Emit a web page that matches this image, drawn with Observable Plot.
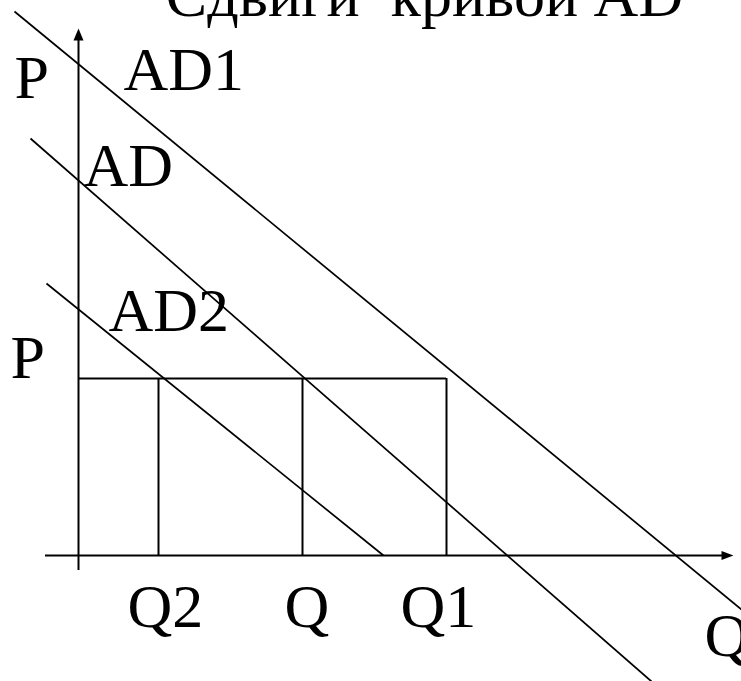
<!DOCTYPE html>
<html><head><meta charset="utf-8">
<script src="https://cdn.jsdelivr.net/npm/d3@7"></script>
<script src="https://cdn.jsdelivr.net/npm/@observablehq/plot@0.6"></script>
<style>html,body{margin:0;padding:0;background:#fff;overflow:hidden}</style>
</head><body><div id="chart"></div>
<script>
// Diagram data (abstract units: Q to the right, P upward, origin at axes crossing)
const title = "Сдвиги\u00A0 кривой AD";
const curveNames = ["AD1", "AD", "AD2"];
const curveStartQ = [-64, -48, -32];
const curveStartP = [544, 417, 272];
const curveEndQ = [663, 573, 305];
const curveEndP = [-54, -126, 0];
const levelNames = ["Q2", "Q", "Q1"];
const levelQ = [80, 224, 368];
const priceLevel = 177;
const axisQ = [-33, 655];
const axisP = [-15, 527];

// label annotations: text, Q, P
const labelText = ["P", "AD1", "AD", "AD2", "P", "Q2", "Q", "Q1", "Q"];
const labelQ = [-64, 45, 5, 30, -68, 49, 206, 322, 626];
const labelP = [458, 466, 370, 225, 178, -71, -71, -71, -100];

const curves = curveNames.map((n, i) => ({n, x1: curveStartQ[i], y1: curveStartP[i], x2: curveEndQ[i], y2: curveEndP[i]}));
const labels = labelText.map((t, i) => ({t, x: labelQ[i], y: labelP[i]}));

const arrowUp = {draw(ctx) { ctx.moveTo(0, 0); ctx.lineTo(5, 12); ctx.lineTo(-5, 12); ctx.closePath(); }};
const arrowRight = {draw(ctx) { ctx.moveTo(0, 0); ctx.lineTo(-12, 4.5); ctx.lineTo(-12, -4.5); ctx.closePath(); }};

const font = "'Liberation Serif', 'Times New Roman', serif";

const chart = Plot.plot({
  width: 741,
  height: 681,
  margin: 0,
  x: {type: "linear", domain: [-78, 663], axis: null},
  y: {type: "linear", domain: [-126, 555], axis: null},
  marks: [
    Plot.ruleX([0], {y1: axisP[0], y2: axisP[1] - 6, stroke: "black", strokeWidth: 2}),
    Plot.ruleY([0], {x1: axisQ[0], x2: axisQ[1] - 6, stroke: "black", strokeWidth: 2}),
    Plot.dot([{x: 0, y: axisP[1]}], {x: "x", y: "y", symbol: arrowUp, fill: "black", stroke: "none"}),
    Plot.dot([{x: axisQ[1], y: 0}], {x: "x", y: "y", symbol: arrowRight, fill: "black", stroke: "none"}),
    Plot.ruleY([priceLevel], {x1: 0, x2: levelQ[2], stroke: "black", strokeWidth: 2}),
    Plot.ruleX(levelQ, {y1: 0, y2: priceLevel, stroke: "black", strokeWidth: 2}),
    Plot.link(curves, {x1: "x1", y1: "y1", x2: "x2", y2: "y2", stroke: "black", strokeWidth: 1.7}),
    Plot.text(labels, {x: "x", y: "y", text: "t", textAnchor: "start", lineAnchor: "bottom", fontSize: 62, fontFamily: font, fill: "black"}),
    Plot.text([title], {x: 346, y: 540, text: d => d, textAnchor: "middle", lineAnchor: "bottom", fontSize: 62, fontFamily: font, fill: "black"})
  ]
});
document.getElementById("chart").appendChild(chart);
</script>
</body></html>
